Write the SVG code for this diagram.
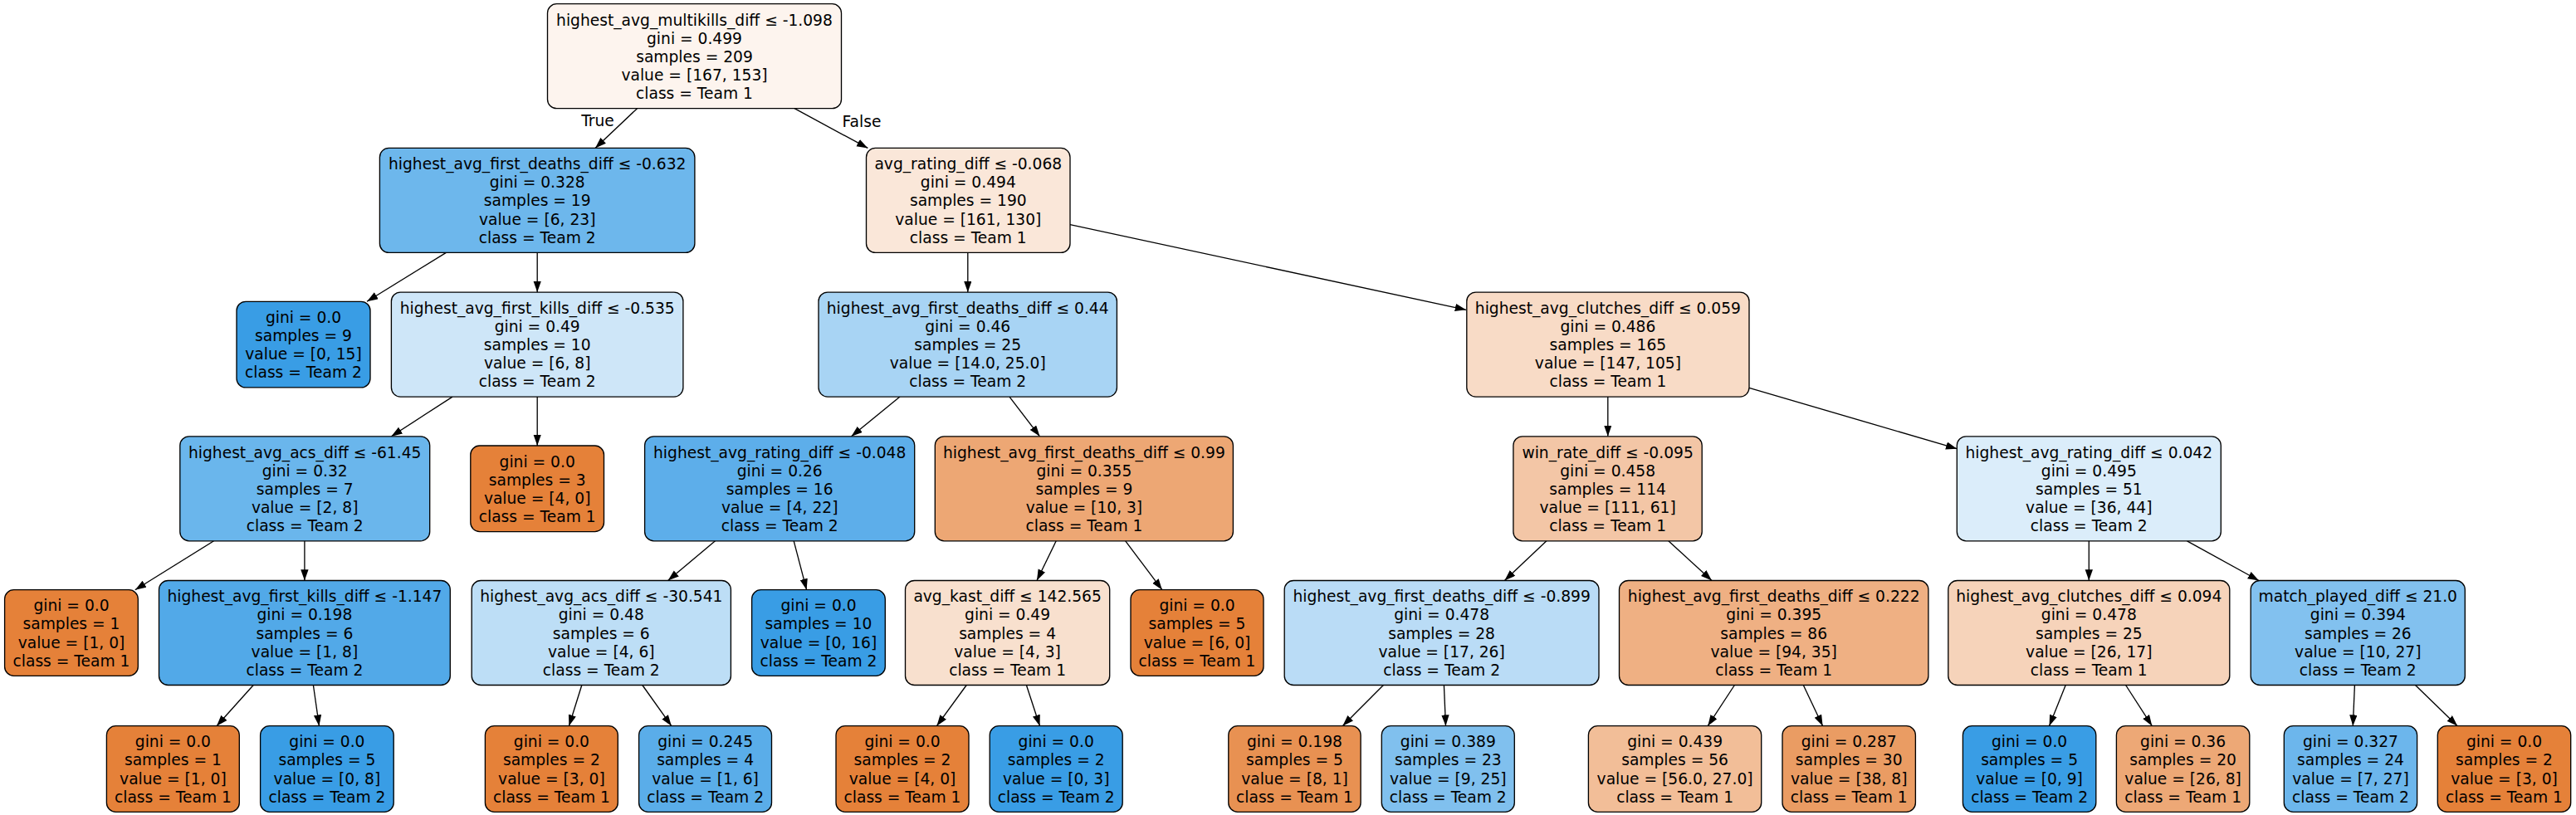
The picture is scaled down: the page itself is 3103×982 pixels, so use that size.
<svg xmlns="http://www.w3.org/2000/svg" width="3103" height="982" viewBox="0 0 3103 982">
<defs>
<marker id="ah" markerUnits="userSpaceOnUse" markerWidth="14" markerHeight="10" refX="13.3" refY="4.67" orient="auto">
<path d="M0,0 L13.3,4.67 L0,9.34 Z" fill="#000"/>
</marker>
<style>
.n rect{stroke:#000;stroke-width:1.33;}
text{font-family:"DejaVu Sans","Liberation Sans",sans-serif;font-size:18.67px;fill:#000;text-anchor:middle;}
.e line{stroke:#000;stroke-width:1.33;marker-end:url(#ah);}
.o{fill:#e58139;} .b{fill:#399de5;}
</style>
</defs>
<rect width="3103" height="982" fill="#fff"/>
<g class="e" id="connectors">
<line x1="767.5" y1="130.7" x2="717" y2="178.4"/>
<line x1="957" y1="130.7" x2="1045.3" y2="178.4"/>
<line x1="537.4" y1="304.4" x2="442" y2="363.3"/>
<line x1="647.2" y1="304.4" x2="647.2" y2="352.1"/>
<line x1="1165.8" y1="304.4" x2="1165.8" y2="352.1"/>
<line x1="1289" y1="270.7" x2="1766" y2="373.3"/>
<line x1="545" y1="478.1" x2="471.4" y2="525.8"/>
<line x1="647.2" y1="478.1" x2="647.2" y2="537"/>
<line x1="1084" y1="478.1" x2="1025.5" y2="525.8"/>
<line x1="1216" y1="478.1" x2="1252.5" y2="525.8"/>
<line x1="1936.8" y1="478.1" x2="1936.8" y2="525.8"/>
<line x1="2107" y1="467.3" x2="2357.3" y2="540.7"/>
<line x1="257.5" y1="651.8" x2="162.8" y2="710.7"/>
<line x1="366.9" y1="651.8" x2="366.9" y2="699.5"/>
<line x1="861.5" y1="651.8" x2="804.6" y2="699.5"/>
<line x1="956.2" y1="651.8" x2="971.6" y2="710.7"/>
<line x1="1272.2" y1="651.8" x2="1249" y2="699.5"/>
<line x1="1355.7" y1="651.8" x2="1399.9" y2="710.7"/>
<line x1="1862.9" y1="651.8" x2="1812.4" y2="699.5"/>
<line x1="2009.8" y1="651.8" x2="2062" y2="699.5"/>
<line x1="2516.3" y1="651.8" x2="2516.3" y2="699.5"/>
<line x1="2634.5" y1="651.8" x2="2721" y2="699.5"/>
<line x1="305.2" y1="825.5" x2="261" y2="874.7"/>
<line x1="377.4" y1="825.5" x2="384.4" y2="874.7"/>
<line x1="700.8" y1="825.5" x2="685.4" y2="874.7"/>
<line x1="773.8" y1="825.5" x2="808.8" y2="874.7"/>
<line x1="1164.2" y1="825.5" x2="1128.4" y2="874.7"/>
<line x1="1236.4" y1="825.5" x2="1252.5" y2="874.7"/>
<line x1="1666.4" y1="825.5" x2="1617.3" y2="874.7"/>
<line x1="1739.4" y1="825.5" x2="1741.5" y2="874.7"/>
<line x1="2089.4" y1="825.5" x2="2057.2" y2="874.7"/>
<line x1="2172.3" y1="825.5" x2="2195.6" y2="874.7"/>
<line x1="2488.2" y1="825.5" x2="2468.5" y2="874.7"/>
<line x1="2560.6" y1="825.5" x2="2592.3" y2="874.7"/>
<line x1="2836.4" y1="825.5" x2="2834.3" y2="874.7"/>
<line x1="2909.5" y1="825.5" x2="2960.2" y2="874.7"/>
<text x="720" y="152">True</text>
<text x="1038" y="153">False</text>
</g>
<g class="n" id="node0"><rect x="659.5" y="4.7" width="354" height="126" rx="11" fill="#fdf4ee"/><text x="836.5"><tspan x="836.5" y="30.5">highest_avg_multikills_diff ≤ -1.098</tspan><tspan x="836.5" y="52.6">gini = 0.499</tspan><tspan x="836.5" y="74.7">samples = 209</tspan><tspan x="836.5" y="96.8">value = [167, 153]</tspan><tspan x="836.5" y="118.9">class = Team 1</tspan></text></g>
<g class="n" id="node1"><rect x="457.4" y="178.4" width="379.5" height="126" rx="11" fill="#6db7ec"/><text><tspan x="647.2" y="204.2">highest_avg_first_deaths_diff ≤ -0.632</tspan><tspan x="647.2" y="226.3">gini = 0.328</tspan><tspan x="647.2" y="248.4">samples = 19</tspan><tspan x="647.2" y="270.5">value = [6, 23]</tspan><tspan x="647.2" y="292.6">class = Team 2</tspan></text></g>
<g class="n" id="node2"><rect x="1043.5" y="178.4" width="245.5" height="126" rx="11" fill="#fae7d9"/><text><tspan x="1166.3" y="204.2">avg_rating_diff ≤ -0.068</tspan><tspan x="1166.3" y="226.3">gini = 0.494</tspan><tspan x="1166.3" y="248.4">samples = 190</tspan><tspan x="1166.3" y="270.5">value = [161, 130]</tspan><tspan x="1166.3" y="292.6">class = Team 1</tspan></text></g>
<g class="n" id="node3"><rect x="285" y="363.3" width="161" height="103.6" rx="11" class="b"/><text><tspan x="365.5" y="388.9">gini = 0.0</tspan><tspan x="365.5" y="411">samples = 9</tspan><tspan x="365.5" y="433.1">value = [0, 15]</tspan><tspan x="365.5" y="455.2">class = Team 2</tspan></text></g>
<g class="n" id="node4"><rect x="471.4" y="352.1" width="351.5" height="126" rx="11" fill="#cee6f8"/><text><tspan x="647.2" y="377.9">highest_avg_first_kills_diff ≤ -0.535</tspan><tspan x="647.2" y="400">gini = 0.49</tspan><tspan x="647.2" y="422.1">samples = 10</tspan><tspan x="647.2" y="444.2">value = [6, 8]</tspan><tspan x="647.2" y="466.3">class = Team 2</tspan></text></g>
<g class="n" id="node5"><rect x="986" y="352.1" width="359.4" height="126" rx="11" fill="#a8d4f4"/><text><tspan x="1165.7" y="377.9">highest_avg_first_deaths_diff ≤ 0.44</tspan><tspan x="1165.7" y="400">gini = 0.46</tspan><tspan x="1165.7" y="422.1">samples = 25</tspan><tspan x="1165.7" y="444.2">value = [14.0, 25.0]</tspan><tspan x="1165.7" y="466.3">class = Team 2</tspan></text></g>
<g class="n" id="node6"><rect x="1766.8" y="352.1" width="340.2" height="126" rx="11" fill="#f8dbc6"/><text><tspan x="1936.9" y="377.9">highest_avg_clutches_diff ≤ 0.059</tspan><tspan x="1936.9" y="400">gini = 0.486</tspan><tspan x="1936.9" y="422.1">samples = 165</tspan><tspan x="1936.9" y="444.2">value = [147, 105]</tspan><tspan x="1936.9" y="466.3">class = Team 1</tspan></text></g>
<g class="n" id="node7"><rect x="216.8" y="525.8" width="300.9" height="126" rx="11" fill="#6ab6ec"/><text><tspan x="367.2" y="551.6">highest_avg_acs_diff ≤ -61.45</tspan><tspan x="367.2" y="573.7">gini = 0.32</tspan><tspan x="367.2" y="595.8">samples = 7</tspan><tspan x="367.2" y="617.9">value = [2, 8]</tspan><tspan x="367.2" y="640">class = Team 2</tspan></text></g>
<g class="n" id="node8"><rect x="566.8" y="537" width="160.7" height="103.6" rx="11" class="o"/><text><tspan x="647.2" y="562.6">gini = 0.0</tspan><tspan x="647.2" y="584.7">samples = 3</tspan><tspan x="647.2" y="606.8">value = [4, 0]</tspan><tspan x="647.2" y="628.9">class = Team 1</tspan></text></g>
<g class="n" id="node9"><rect x="776.6" y="525.8" width="325.1" height="126" rx="11" fill="#5daeea"/><text><tspan x="939.2" y="551.6">highest_avg_rating_diff ≤ -0.048</tspan><tspan x="939.2" y="573.7">gini = 0.26</tspan><tspan x="939.2" y="595.8">samples = 16</tspan><tspan x="939.2" y="617.9">value = [4, 22]</tspan><tspan x="939.2" y="640">class = Team 2</tspan></text></g>
<g class="n" id="node10"><rect x="1126.3" y="525.8" width="359.1" height="126" rx="11" fill="#eda774"/><text><tspan x="1305.9" y="551.6">highest_avg_first_deaths_diff ≤ 0.99</tspan><tspan x="1305.9" y="573.7">gini = 0.355</tspan><tspan x="1305.9" y="595.8">samples = 9</tspan><tspan x="1305.9" y="617.9">value = [10, 3]</tspan><tspan x="1305.9" y="640">class = Team 1</tspan></text></g>
<g class="n" id="node11"><rect x="1822.9" y="525.8" width="227.3" height="126" rx="11" fill="#f3c6a6"/><text><tspan x="1936.6" y="551.6">win_rate_diff ≤ -0.095</tspan><tspan x="1936.6" y="573.7">gini = 0.458</tspan><tspan x="1936.6" y="595.8">samples = 114</tspan><tspan x="1936.6" y="617.9">value = [111, 61]</tspan><tspan x="1936.6" y="640">class = Team 1</tspan></text></g>
<g class="n" id="node12"><rect x="2357.3" y="525.8" width="318" height="126" rx="11" fill="#dbedfa"/><text><tspan x="2516.3" y="551.6">highest_avg_rating_diff ≤ 0.042</tspan><tspan x="2516.3" y="573.7">gini = 0.495</tspan><tspan x="2516.3" y="595.8">samples = 51</tspan><tspan x="2516.3" y="617.9">value = [36, 44]</tspan><tspan x="2516.3" y="640">class = Team 2</tspan></text></g>
<g class="n" id="node13"><rect x="5.6" y="710.7" width="160.7" height="103.6" rx="11" class="o"/><text><tspan x="86" y="736.3">gini = 0.0</tspan><tspan x="86" y="758.4">samples = 1</tspan><tspan x="86" y="780.5">value = [1, 0]</tspan><tspan x="86" y="802.6">class = Team 1</tspan></text></g>
<g class="n" id="node14"><rect x="191.5" y="699.5" width="350.8" height="126" rx="11" fill="#52a9e8"/><text><tspan x="366.9" y="725.3">highest_avg_first_kills_diff ≤ -1.147</tspan><tspan x="366.9" y="747.4">gini = 0.198</tspan><tspan x="366.9" y="769.5">samples = 6</tspan><tspan x="366.9" y="791.6">value = [1, 8]</tspan><tspan x="366.9" y="813.7">class = Team 2</tspan></text></g>
<g class="n" id="node15"><rect x="568.2" y="699.5" width="312.2" height="126" rx="11" fill="#bddef6"/><text><tspan x="724.3" y="725.3">highest_avg_acs_diff ≤ -30.541</tspan><tspan x="724.3" y="747.4">gini = 0.48</tspan><tspan x="724.3" y="769.5">samples = 6</tspan><tspan x="724.3" y="791.6">value = [4, 6]</tspan><tspan x="724.3" y="813.7">class = Team 2</tspan></text></g>
<g class="n" id="node16"><rect x="905.6" y="710.7" width="160.7" height="103.6" rx="11" class="b"/><text><tspan x="986" y="736.3">gini = 0.0</tspan><tspan x="986" y="758.4">samples = 10</tspan><tspan x="986" y="780.5">value = [0, 16]</tspan><tspan x="986" y="802.6">class = Team 2</tspan></text></g>
<g class="n" id="node17"><rect x="1090.5" y="699.5" width="246.2" height="126" rx="11" fill="#f8e0ce"/><text><tspan x="1213.6" y="725.3">avg_kast_diff ≤ 142.565</tspan><tspan x="1213.6" y="747.4">gini = 0.49</tspan><tspan x="1213.6" y="769.5">samples = 4</tspan><tspan x="1213.6" y="791.6">value = [4, 3]</tspan><tspan x="1213.6" y="813.7">class = Team 1</tspan></text></g>
<g class="n" id="node18"><rect x="1362" y="710.7" width="160" height="103.6" rx="11" class="o"/><text><tspan x="1442" y="736.3">gini = 0.0</tspan><tspan x="1442" y="758.4">samples = 5</tspan><tspan x="1442" y="780.5">value = [6, 0]</tspan><tspan x="1442" y="802.6">class = Team 1</tspan></text></g>
<g class="n" id="node19"><rect x="1547.2" y="699.5" width="378.8" height="126" rx="11" fill="#badcf6"/><text><tspan x="1736.6" y="725.3">highest_avg_first_deaths_diff ≤ -0.899</tspan><tspan x="1736.6" y="747.4">gini = 0.478</tspan><tspan x="1736.6" y="769.5">samples = 28</tspan><tspan x="1736.6" y="791.6">value = [17, 26]</tspan><tspan x="1736.6" y="813.7">class = Team 2</tspan></text></g>
<g class="n" id="node20"><rect x="1950.5" y="699.5" width="372.4" height="126" rx="11" fill="#efb083"/><text><tspan x="2136.7" y="725.3">highest_avg_first_deaths_diff ≤ 0.222</tspan><tspan x="2136.7" y="747.4">gini = 0.395</tspan><tspan x="2136.7" y="769.5">samples = 86</tspan><tspan x="2136.7" y="791.6">value = [94, 35]</tspan><tspan x="2136.7" y="813.7">class = Team 1</tspan></text></g>
<g class="n" id="node21"><rect x="2346.8" y="699.5" width="339" height="126" rx="11" fill="#f6d3ba"/><text><tspan x="2516.3" y="725.3">highest_avg_clutches_diff ≤ 0.094</tspan><tspan x="2516.3" y="747.4">gini = 0.478</tspan><tspan x="2516.3" y="769.5">samples = 25</tspan><tspan x="2516.3" y="791.6">value = [26, 17]</tspan><tspan x="2516.3" y="813.7">class = Team 1</tspan></text></g>
<g class="n" id="node22"><rect x="2711.2" y="699.5" width="258.1" height="126" rx="11" fill="#82c1ef"/><text><tspan x="2840.3" y="725.3">match_played_diff ≤ 21.0</tspan><tspan x="2840.3" y="747.4">gini = 0.394</tspan><tspan x="2840.3" y="769.5">samples = 26</tspan><tspan x="2840.3" y="791.6">value = [10, 27]</tspan><tspan x="2840.3" y="813.7">class = Team 2</tspan></text></g>
<g class="n" id="node23"><rect x="128.4" y="874.7" width="159.9" height="103.6" rx="11" class="o"/><text><tspan x="208.4" y="900.3">gini = 0.0</tspan><tspan x="208.4" y="922.4">samples = 1</tspan><tspan x="208.4" y="944.5">value = [1, 0]</tspan><tspan x="208.4" y="966.6">class = Team 1</tspan></text></g>
<g class="n" id="node24"><rect x="313.6" y="874.7" width="160.6" height="103.6" rx="11" class="b"/><text><tspan x="393.9" y="900.3">gini = 0.0</tspan><tspan x="393.9" y="922.4">samples = 5</tspan><tspan x="393.9" y="944.5">value = [0, 8]</tspan><tspan x="393.9" y="966.6">class = Team 2</tspan></text></g>
<g class="n" id="node25"><rect x="584.4" y="874.7" width="159.9" height="103.6" rx="11" class="o"/><text><tspan x="664.4" y="900.3">gini = 0.0</tspan><tspan x="664.4" y="922.4">samples = 2</tspan><tspan x="664.4" y="944.5">value = [3, 0]</tspan><tspan x="664.4" y="966.6">class = Team 1</tspan></text></g>
<g class="n" id="node26"><rect x="769.6" y="874.7" width="159.9" height="103.6" rx="11" fill="#5aade9"/><text><tspan x="849.6" y="900.3">gini = 0.245</tspan><tspan x="849.6" y="922.4">samples = 4</tspan><tspan x="849.6" y="944.5">value = [1, 6]</tspan><tspan x="849.6" y="966.6">class = Team 2</tspan></text></g>
<g class="n" id="node27"><rect x="1007" y="874.7" width="160" height="103.6" rx="11" class="o"/><text><tspan x="1087" y="900.3">gini = 0.0</tspan><tspan x="1087" y="922.4">samples = 2</tspan><tspan x="1087" y="944.5">value = [4, 0]</tspan><tspan x="1087" y="966.6">class = Team 1</tspan></text></g>
<g class="n" id="node28"><rect x="1192.2" y="874.7" width="160" height="103.6" rx="11" class="b"/><text><tspan x="1272.2" y="900.3">gini = 0.0</tspan><tspan x="1272.2" y="922.4">samples = 2</tspan><tspan x="1272.2" y="944.5">value = [0, 3]</tspan><tspan x="1272.2" y="966.6">class = Team 2</tspan></text></g>
<g class="n" id="node29"><rect x="1479.8" y="874.7" width="159.3" height="103.6" rx="11" fill="#e89152"/><text><tspan x="1559.5" y="900.3">gini = 0.198</tspan><tspan x="1559.5" y="922.4">samples = 5</tspan><tspan x="1559.5" y="944.5">value = [8, 1]</tspan><tspan x="1559.5" y="966.6">class = Team 1</tspan></text></g>
<g class="n" id="node30"><rect x="1664.3" y="874.7" width="160" height="103.6" rx="11" fill="#80c0ee"/><text><tspan x="1744.3" y="900.3">gini = 0.389</tspan><tspan x="1744.3" y="922.4">samples = 23</tspan><tspan x="1744.3" y="944.5">value = [9, 25]</tspan><tspan x="1744.3" y="966.6">class = Team 2</tspan></text></g>
<g class="n" id="node31"><rect x="1913.4" y="874.7" width="208.3" height="103.6" rx="11" fill="#f2be98"/><text><tspan x="2017.6" y="900.3">gini = 0.439</tspan><tspan x="2017.6" y="922.4">samples = 56</tspan><tspan x="2017.6" y="944.5">value = [56.0, 27.0]</tspan><tspan x="2017.6" y="966.6">class = Team 1</tspan></text></g>
<g class="n" id="node32"><rect x="2147" y="874.7" width="160.4" height="103.6" rx="11" fill="#ea9c63"/><text><tspan x="2227.2" y="900.3">gini = 0.287</tspan><tspan x="2227.2" y="922.4">samples = 30</tspan><tspan x="2227.2" y="944.5">value = [38, 8]</tspan><tspan x="2227.2" y="966.6">class = Team 1</tspan></text></g>
<g class="n" id="node33"><rect x="2364.4" y="874.7" width="160.4" height="103.6" rx="11" class="b"/><text><tspan x="2444.6" y="900.3">gini = 0.0</tspan><tspan x="2444.6" y="922.4">samples = 5</tspan><tspan x="2444.6" y="944.5">value = [0, 9]</tspan><tspan x="2444.6" y="966.6">class = Team 2</tspan></text></g>
<g class="n" id="node34"><rect x="2549.4" y="874.7" width="160.4" height="103.6" rx="11" fill="#eda876"/><text><tspan x="2629.6" y="900.3">gini = 0.36</tspan><tspan x="2629.6" y="922.4">samples = 20</tspan><tspan x="2629.6" y="944.5">value = [26, 8]</tspan><tspan x="2629.6" y="966.6">class = Team 1</tspan></text></g>
<g class="n" id="node35"><rect x="2751.3" y="874.7" width="160.3" height="103.6" rx="11" fill="#6cb6ec"/><text><tspan x="2831.5" y="900.3">gini = 0.327</tspan><tspan x="2831.5" y="922.4">samples = 24</tspan><tspan x="2831.5" y="944.5">value = [7, 27]</tspan><tspan x="2831.5" y="966.6">class = Team 2</tspan></text></g>
<g class="n" id="node36"><rect x="2936.3" y="874.7" width="160.4" height="103.6" rx="11" class="o"/><text><tspan x="3016.5" y="900.3">gini = 0.0</tspan><tspan x="3016.5" y="922.4">samples = 2</tspan><tspan x="3016.5" y="944.5">value = [3, 0]</tspan><tspan x="3016.5" y="966.6">class = Team 1</tspan></text></g>
</svg>
